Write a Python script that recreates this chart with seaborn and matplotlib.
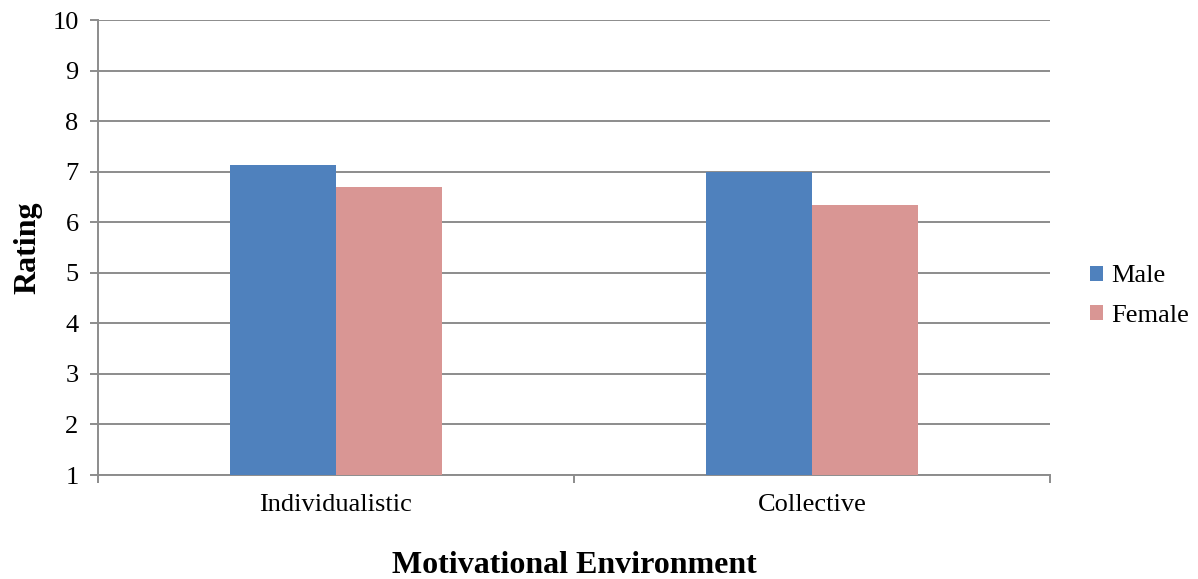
import matplotlib
matplotlib.use("Agg")
import matplotlib.pyplot as plt
import seaborn as sns
import pandas as pd
from matplotlib.ticker import FixedLocator

# Mean ratings by motivational environment and gender
environments = ["Individualistic", "Collective"]
genders = ["Male", "Female"]
male_ratings = [7.14, 7.00]
female_ratings = [6.70, 6.34]

df = pd.DataFrame({
    "Environment": environments * 2,
    "Gender": ["Male"] * len(environments) + ["Female"] * len(environments),
    "Rating": male_ratings + female_ratings,
})

sns.set_theme(style="white")
plt.rcParams["font.family"] = ["Liberation Serif", "DejaVu Serif"]

palette = {"Male": "#4F81BD", "Female": "#D99694"}
grid_color = "#8C8C8C"

fig = plt.figure(figsize=(11.98, 5.79), dpi=100)
ax = fig.add_axes([98 / 1198, 1 - 475 / 579, (1050 - 98) / 1198, (475 - 20) / 579])

sns.barplot(data=df, x="Environment", y="Rating", hue="Gender",
            hue_order=genders, order=environments, palette=palette,
            width=0.444, gap=0, linewidth=0, saturation=1, ax=ax,
            errorbar=None, zorder=3)

ax.set_xlim(-0.5, 1.5)
ax.set_ylim(1, 10)
ax.set_yticks(range(1, 11))
ax.yaxis.grid(True, color=grid_color, linewidth=1.4, zorder=0)
ax.set_axisbelow(True)

for side in ["top", "right"]:
    ax.spines[side].set_visible(False)
for side in ["left", "bottom"]:
    ax.spines[side].set_color(grid_color)
    ax.spines[side].set_linewidth(1.4)

ax.tick_params(axis="y", which="major", length=6, width=1.4, color=grid_color,
               direction="out", labelsize=19, pad=8, left=True)
ax.tick_params(axis="x", which="major", length=0, labelsize=19, pad=14)
ax.xaxis.set_minor_locator(FixedLocator([-0.5, 0.5, 1.5]))
ax.tick_params(axis="x", which="minor", length=6, width=1.4, color=grid_color,
               direction="out", bottom=True)
for lbl in ax.get_xticklabels() + ax.get_yticklabels():
    lbl.set_color("black")

ax.set_xlabel("Motivational Environment", fontsize=23, fontweight="bold",
              labelpad=25, color="black")
ax.set_ylabel("Rating", fontsize=23, fontweight="bold", labelpad=7, color="black")

handles, labels = ax.get_legend_handles_labels()
leg = ax.legend(handles, labels, loc="center left",
                bbox_to_anchor=(1090 / 1198, 1 - 296 / 579),
                bbox_transform=fig.transFigure, frameon=False, fontsize=19,
                handlelength=0.5, handleheight=0.5, handletextpad=0.3,
                labelspacing=0.65, borderpad=0, borderaxespad=0)
for txt in leg.get_texts():
    txt.set_color("black")

fig.savefig("out.png", dpi=100)
